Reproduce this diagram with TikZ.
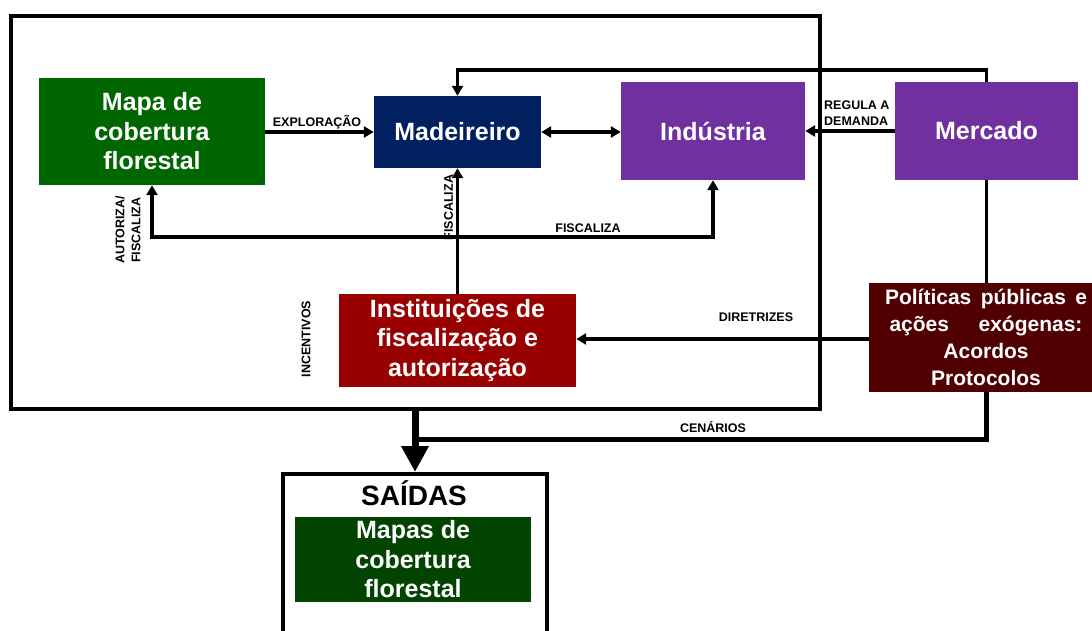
\documentclass[tikz,border=0pt]{standalone}
\usepackage{fontspec}
\setmainfont{Liberation Sans}
\usetikzlibrary{arrows.meta,calc}
\definecolor{cMapa}{RGB}{0,102,0}
\definecolor{cMad}{RGB}{0,32,96}
\definecolor{cPur}{RGB}{112,48,160}
\definecolor{cInst}{RGB}{153,0,0}
\definecolor{cPol}{RGB}{80,0,0}
\definecolor{cOut}{RGB}{0,68,0}
\begin{document}
\begin{tikzpicture}[x=1pt,y=-1pt,
  box/.style={rectangle, inner sep=0pt, text=white, font=\bfseries\fontsize{25}{29.5}\selectfont, align=center},
  lbl/.style={font=\bfseries\fontsize{12.5}{16}\selectfont, inner sep=0pt, text=black},
  arr/.style={line width=3.5pt, -{Triangle[length=10pt,width=11pt]}},
  arrb/.style={line width=3.5pt, {Triangle[length=10pt,width=11pt]}-{Triangle[length=10pt,width=11pt]}},
  plain/.style={line width=3.5pt},
  frame/.style={draw, line width=4pt, rectangle, inner sep=0pt}]
\useasboundingbox (0,0) rectangle (1092,630);
\fill[white] (0,0) rectangle (1092,630);
\clip (0,0) rectangle (1092,630);

% outer frame
\node[frame, minimum width=809pt, minimum height=393pt] (sys) at (415.5,212.5) {};

% boxes
\node[box, fill=cMapa, minimum width=226pt, minimum height=107pt] (mapa) at (152,131.5) {Mapa de\\cobertura\\florestal};
\node[box, fill=cMad, minimum width=167pt, minimum height=72pt] (mad) at (457.5,132) {Madeireiro};
\node[box, fill=cPur, minimum width=184pt, minimum height=98pt] (ind) at (713,131) {Indústria};
\node[box, fill=cPur, minimum width=183pt, minimum height=98pt] (merc) at (986.5,131) {Mercado};
\node[box, fill=cInst, minimum width=237pt, minimum height=93pt] (inst) at (457.5,340.5) {Instituições de\\fiscalização e\\autorização};
\node[box, fill=cPol, minimum width=234pt, minimum height=109pt, font=\bfseries\fontsize{21}{27}\selectfont] (pol) at (986,337.5)
  {\hbox to 202pt{Políticas\hfill públicas\hfill e}\\\hbox to 193pt{ações\hfill exógenas:}\\Acordos\\Protocolos};

% outputs
\node[frame, minimum width=264pt, minimum height=175pt, anchor=north] (saidas) at (415,472) {};
\node[font=\bfseries\fontsize{28}{30}\selectfont, inner sep=0pt] (saidast) at (414,493) {SAÍDAS};
\node[box, fill=cOut, minimum width=236pt, minimum height=85pt] (mapas) at (413,559.5) {Mapas de\\cobertura\\florestal};

% helper coordinates
\coordinate (topy) at (457.5,70);
\coordinate (fy) at (457.5,237);
\coordinate (dy) at (700,339);
\coordinate (cen) at (415,439);
\coordinate (sysb) at (415,409);

% connectors
\draw[arr] (mapa.east |- mad.west) -- (mad.west);
\draw[arrb] (mad.east) -- (mad.east -| ind.west);
\draw[arr] (merc.west) -- (ind.east);
\draw[arr] (merc.north) |- (topy) -- (mad.north);
\draw[arr] (inst.north) -- (mad.south);
\draw[arrb] (mapa.south) |- (fy) -| (ind.south);
\draw[arr] (pol.west |- dy) -- (inst.east |- dy);
\draw[plain] (merc.south) -- (merc.south |- pol.north);
\draw[line width=5pt] (merc.south |- pol.south) |- (cen);
\draw[line width=7pt, -{Triangle[length=26pt,width=26pt]}] (sysb) -- (saidas.north);

% labels
\node[lbl] (l1) at (317,122) {EXPLORAÇÃO};
\node[lbl, anchor=west, align=left] (l2) at (824,113) {REGULA A\\DEMANDA};
\node[lbl] (l3) at (588,228) {FISCALIZA};
\node[lbl, rotate=90] (l4) at (448.5,207.5) {FISCALIZA};
\node[lbl, rotate=90, align=center] (l5) at (128,230) {AUTORIZA/\\FISCALIZA};
\node[lbl, rotate=90] (l6) at (306,339) {INCENTIVOS};
\node[lbl] (l7) at (756,317) {DIRETRIZES};
\node[lbl] (l8) at (713,427) {CENÁRIOS};
\end{tikzpicture}
\end{document}
